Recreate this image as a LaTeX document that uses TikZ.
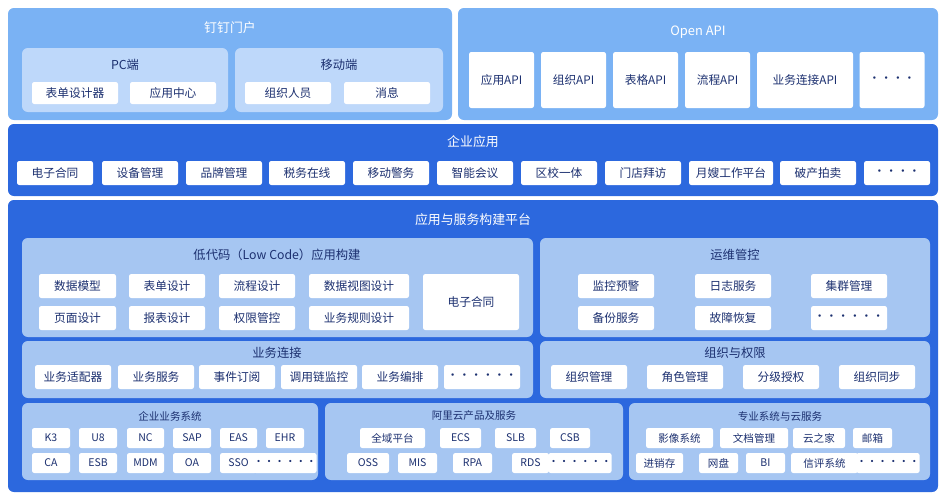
\documentclass[tikz,border=0pt]{standalone}
\usepackage{fontspec}
\setmainfont{Noto Sans CJK SC}
\usetikzlibrary{positioning}
\definecolor{portal}{RGB}{122,178,244}
\definecolor{subpanel}{RGB}{190,216,250}
\definecolor{layer}{RGB}{44,104,222}
\definecolor{inner}{RGB}{166,198,242}
\definecolor{ink}{RGB}{28,48,112}
\tikzset{
  cell/.style={fill=white, rounded corners=2pt, inner sep=0pt, align=center, text=ink, font=\fontsize{10}{12}\selectfont},
  small/.style={font=\fontsize{9}{11}\selectfont},
  ttl/.style={font=\fontsize{11}{13}\selectfont, text=white},
  subttl/.style={font=\fontsize{10.5}{13}\selectfont, text=ink}
}
% box from (x1,y1) to (x2,y2) in pixels
\newcommand\cell[6][]{\node[cell,#1, minimum width=(#4-#2)*0.03cm, minimum height=(#5-#3)*0.03cm] (#6) at ({(#2+#4)/2},{(#3+#5)/2}) {#6};}
\newcommand\panel[5]{\fill[#1, rounded corners=5pt] (#2,#3) rectangle (#4,#5);}
\begin{document}
\begin{tikzpicture}[x=0.03cm, y=-0.03cm]
\useasboundingbox (0,0) rectangle (946,500);

% Portal
\panel{portal}{8}{8}{452}{120}
\node[ttl] (portalT) at (230,28) {钉钉门户};
\panel{subpanel}{22}{48}{228}{112}
\panel{subpanel}{235}{48}{443}{112}
\node[subttl] (pcT) at (125,65) {PC端};
\node[subttl] (mobT) at (339,65) {移动端};
\cell{32}{82}{118}{104}{表单设计器}
\cell{130}{82}{216}{104}{应用中心}
\cell{245}{82}{331}{104}{组织人员}
\cell{344}{82}{430}{104}{消息}

% Open API
\panel{portal}{458}{8}{938}{120}
\node[ttl] (apiT) at (698,32) {Open API};
\cell{469}{52}{534}{108}{应用API}
\cell{541}{52}{606}{108}{组织API}
\cell{613}{52}{678}{108}{表格API}
\cell{685}{52}{750}{108}{流程API}
\cell{757}{52}{853}{108}{业务连接API}
\node[cell, minimum width=65*0.03cm, minimum height=56*0.03cm] (apiMore) at (892,80) {····};

% Enterprise apps
\panel{layer}{8}{124}{938}{196}
\node[ttl] (appT) at (473,142) {企业应用};
\cell{17}{161}{93}{185}{电子合同}
\cell{102}{161}{178}{185}{设备管理}
\cell{186}{161}{262}{185}{品牌管理}
\cell{269}{161}{345}{185}{税务在线}
\cell{353}{161}{429}{185}{移动警务}
\cell{437}{161}{513}{185}{智能会议}
\cell{521}{161}{597}{185}{区校一体}
\cell{605}{161}{681}{185}{门店拜访}
\cell{689}{161}{773}{185}{月嫂工作平台}
\cell{780}{161}{856}{185}{破产拍卖}
\node[cell, minimum width=66*0.03cm, minimum height=24*0.03cm] (appMore) at (897,173) {····};

% Platform
\panel{layer}{8}{200}{938}{492}
\node[ttl] (platT) at (473,220) {应用与服务构建平台};

\panel{inner}{22}{238}{533}{337}
\node[subttl] (lcT) at (277,255) {低代码（Low Code）应用构建};
\cell{39}{274}{116}{298}{数据模型}
\cell{129}{274}{205}{298}{表单设计}
\cell{219}{274}{295}{298}{流程设计}
\cell{309}{274}{409}{298}{数据视图设计}
\cell{39}{306}{116}{330}{页面设计}
\cell{129}{306}{205}{330}{报表设计}
\cell{219}{306}{295}{330}{权限管控}
\cell{309}{306}{409}{330}{业务规则设计}
\node[cell, minimum width=96*0.03cm, minimum height=56*0.03cm] (lcContract) at (471,302) {电子合同};

\panel{inner}{540}{238}{930}{337}
\node[subttl] (opsT) at (735,255) {运维管控};
\cell{578}{274}{654}{298}{监控预警}
\cell{695}{274}{771}{298}{日志服务}
\cell{811}{274}{887}{298}{集群管理}
\cell{578}{306}{654}{330}{备份服务}
\cell{695}{306}{771}{330}{故障恢复}
\node[cell, minimum width=76*0.03cm, minimum height=24*0.03cm] (opsMore) at (849,318) {······};

\panel{inner}{22}{341}{533}{398}
\node[subttl] (bcT) at (277,353) {业务连接};
\cell{35}{365}{111}{389}{业务适配器}
\cell{118}{365}{194}{389}{业务服务}
\cell{199}{365}{275}{389}{事件订阅}
\cell{281}{365}{357}{389}{调用链监控}
\cell{362}{365}{438}{389}{业务编排}
\node[cell, minimum width=76*0.03cm, minimum height=24*0.03cm] (bcMore) at (482,377) {······};

\panel{inner}{540}{341}{930}{398}
\node[subttl] (orgT) at (735,353) {组织与权限};
\cell{551}{365}{627}{389}{组织管理}
\cell{647}{365}{723}{389}{角色管理}
\cell{743}{365}{819}{389}{分级授权}
\cell{839}{365}{915}{389}{组织同步}

% Bottom systems
\panel{inner}{22}{403}{318}{480}
\node[subttl, small] (entT) at (170,416) {企业业务系统};
\cell[small]{32}{428}{70}{448}{K3}
\cell[small]{79}{428}{117}{448}{U8}
\cell[small]{127}{428}{164}{448}{NC}
\cell[small]{173}{428}{211}{448}{SAP}
\cell[small]{220}{428}{257}{448}{EAS}
\cell[small]{266}{428}{304}{448}{EHR}
\cell[small]{32}{453}{70}{473}{CA}
\cell[small]{79}{453}{117}{473}{ESB}
\cell[small]{127}{453}{164}{473}{MDM}
\cell[small]{173}{453}{211}{473}{OA}
\cell[small]{220}{453}{257}{473}{SSO}
\node[cell, small, minimum width=38*0.03cm, minimum height=20*0.03cm] (entMore) at (285,463) {······};

\panel{inner}{325}{403}{623}{480}
\node[subttl, small] (aliT) at (474,416) {阿里云产品及服务};
\cell[small]{360}{428}{425}{448}{全域平台}
\cell[small]{440}{428}{481}{448}{ECS}
\cell[small]{495}{428}{536}{448}{SLB}
\cell[small]{550}{428}{590}{448}{CSB}
\cell[small]{347}{453}{389}{473}{OSS}
\cell[small]{398}{453}{437}{473}{MIS}
\cell[small]{453}{453}{492}{473}{RPA}
\cell[small]{512}{453}{549}{473}{RDS}
\node[cell, small, minimum width=39*0.03cm, minimum height=20*0.03cm] (aliMore) at (580,463) {······};

\panel{inner}{629}{403}{930}{480}
\node[subttl, small] (proT) at (780,416) {专业系统与云服务};
\cell[small]{646}{428}{713}{448}{影像系统}
\cell[small]{720}{428}{788}{448}{文档管理}
\cell[small]{793}{428}{845}{448}{云之家}
\cell[small]{853}{428}{892}{448}{邮箱}
\cell[small]{636}{453}{683}{473}{进销存}
\cell[small]{699}{453}{738}{473}{网盘}
\cell[small]{746}{453}{785}{473}{BI}
\cell[small]{791}{453}{858}{473}{信评系统}
\node[cell, small, minimum width=44*0.03cm, minimum height=20*0.03cm] (proMore) at (888,463) {······};
\end{tikzpicture}
\end{document}
